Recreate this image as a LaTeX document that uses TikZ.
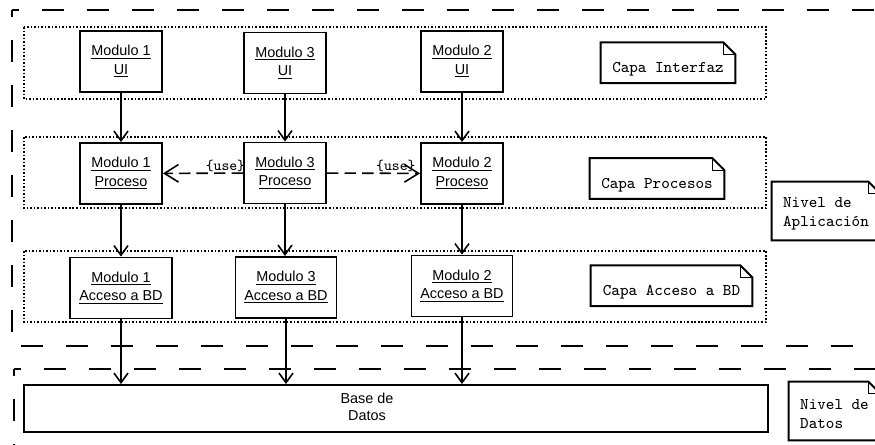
\documentclass[tikz,border=0pt]{standalone}
\usepackage{fontspec}
\setsansfont{Liberation Sans}
\usetikzlibrary{positioning,arrows.meta,calc}

\newcommand{\modtxt}[2]{\underline{#1}\\\underline{#2}}

\begin{document}
\begin{tikzpicture}[x=0.02cm,y=-0.02cm,
  mod/.style={draw,line width=1.1pt,minimum width=#1,minimum height=1.22cm,inner sep=0pt,align=center,font=\sffamily\fontsize{8.2}{10.5}\selectfont},
  mod/.default=1.64cm,
  note/.style={minimum width=#1,minimum height=0.8cm,inner sep=0pt,align=left,font=\ttfamily\fontsize{9.3}{11}\selectfont},
  layer/.style={line width=0.9pt,dash pattern=on 0.9pt off 1.1pt},
  lvl/.style={line width=1.1pt,dash pattern=on 0.44cm off 0.46cm,dash phase=0.3cm},
  mor/.style={-{Straight Barb[length=5.5pt,width=8pt]},line width=0.9pt},
  use/.style={-{Straight Barb[length=8pt,width=10pt]},line width=0.9pt,dash pattern=on 6.5pt off 3.5pt},
  uselbl/.style={font=\ttfamily\fontsize{8.5}{9}\selectfont,inner sep=0.5pt},
]
\useasboundingbox (0,0) rectangle (875,445);
\clip (0,0) rectangle (875,445);

% === Levels (dashed) ===
\draw[lvl] (12,10) -- (900,10);
\draw[lvl] (12,10) -- (12,346) -- (900,346);
\draw[lvl] (14,369) -- (900,369);
\draw[lvl] (14,369) -- (14,460);

% === Layers (dotted) ===
\draw[layer] (24,27) rectangle (766,99);
\draw[layer] (24,137) rectangle (766,208);
\draw[layer] (24,251) rectangle (766,322);

% === Modules ===
\node[mod] (m1ui) at (121,61.5) {\modtxt{Modulo 1}{UI}};
\node[mod] (m3ui) at (285,63) {\modtxt{Modulo 3}{UI}};
\node[mod] (m2ui) at (462,61.5) {\modtxt{Modulo 2}{UI}};

\node[mod] (m1pr) at (121,173.5) {\modtxt{Modulo 1}{Proceso}};
\node[mod] (m3pr) at (285,173) {\modtxt{Modulo 3}{Proceso}};
\node[mod] (m2pr) at (462,173.5) {\modtxt{Modulo 2}{Proceso}};

\node[mod=2.04cm] (m1bd) at (121,288) {\modtxt{Modulo 1}{Acceso a BD}};
\node[mod=2.02cm] (m3bd) at (286,287.5) {\modtxt{Modulo 3}{Acceso a BD}};
\node[mod=2.02cm] (m2bd) at (462,286) {\modtxt{Modulo 2}{Acceso a BD}};

% === Database ===
\node[draw,line width=1.1pt,minimum width=14.88cm,minimum height=0.94cm] (bd) at (396,408.5) {};
\node[align=center,font=\sffamily\fontsize{8.2}{10}\selectfont] (bdtxt) at (367,407) {Base de\\Datos};

% === Notes ===
\node[note=2.68cm] (capaI) at (668,62.7) {\rule{0pt}{12.9pt}Capa Interfaz};
\node[note=2.68cm] (capaP) at (657,178.5) {\rule{0pt}{12.9pt}Capa Procesos};
\node[note=3.22cm] (capaB) at (671.5,285.7) {\rule{0pt}{12.9pt}Capa Acceso a BD};
\node[note=2.16cm,minimum height=1.16cm] (nivA) at (826,211) {\rule{0pt}{9pt}Nivel de\\Aplicación};
\node[note=1.82cm,minimum height=1.16cm] (nivD) at (834.5,411) {\rule{0pt}{9pt}Nivel de\\Datos};

\foreach \n in {capaI,capaP,capaB,nivA,nivD}{
  \draw[line width=1.1pt] (\n.south west) -- (\n.north west) -- ([xshift=-0.24cm]\n.north east)
    -- ([yshift=-0.24cm]\n.north east) -- (\n.south east) -- cycle;
  \draw[line width=0.6pt] ([xshift=-0.24cm]\n.north east) |- ([yshift=-0.24cm]\n.north east);
}

% === Dependencies ===
\draw[mor] (m1ui) -- (m1pr);
\draw[mor] (m3ui) -- (m3pr);
\draw[mor] (m2ui) -- (m2pr);
\draw[mor] (m1pr) -- (m1bd);
\draw[mor] (m3pr) -- (m3pr |- m3bd.north);
\draw[mor] (m2pr) -- (m2bd);
\draw[mor] (m1bd) -- (m1bd |- bd.north);
\draw[mor] (m3bd) -- (m3bd |- bd.north);
\draw[mor] (m2bd) -- (m2bd |- bd.north);

% === Use relations ===
\draw[use] (m3pr) -- node[uselbl,pos=0.22,above] {\{use\}} (m1pr);
\draw[use] (m3pr) -- node[uselbl,pos=0.74,above] {\{use\}} (m2pr);

\end{tikzpicture}
\end{document}
